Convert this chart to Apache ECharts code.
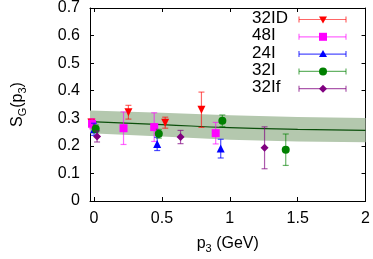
<!DOCTYPE html>
<html><head><meta charset="utf-8">
<script src="https://cdn.jsdelivr.net/npm/echarts@6/dist/echarts.min.js"></script>
<style>html,body{margin:0;padding:0;background:#fff}#c{width:373px;height:259px}</style>
</head><body><div id="c"></div>
<script>
// ---- data ----
const xTicks = [0, 0.5, 1, 1.5, 2];
const xTickLabels = ['0', '0.5', '1', '1.5', '2'];
const yTickLabels = ['0', '0.1', '0.2', '0.3', '0.4', '0.5', '0.6', '0.7'];

const fitP  = [-0.03, 0.5, 1.0, 1.5, 2.0];
const fitVal = [0.288, 0.277, 0.266, 0.260, 0.256];
const fitHi  = [0.328, 0.320, 0.311, 0.305, 0.301];
const fitLo  = [0.246, 0.234, 0.222, 0.216, 0.213];

const seriesNames = ['32ID', '48I', '24I', '32I', '32If'];

const p32ID = [-0.02, 0.253, 0.524, 0.791];
const v32ID = [0.285, 0.322, 0.284, 0.331];
const e32ID = [0.012, 0.025, 0.020, 0.064];

const p48I = [-0.015, 0.217, 0.443, 0.896];
const v48I = [0.280, 0.264, 0.268, 0.246];
const e48I = [0.018, 0.059, 0.052, 0.039];

const p24I = [0.0, 0.465, 0.933];
const v24I = [0.260, 0.207, 0.190];
const e24I = [0.022, 0.024, 0.034];

const p32I = [0.012, 0.477, 0.945, 1.412];
const v32I = [0.262, 0.244, 0.291, 0.186];
const e32I = [0.014, 0.016, 0.021, 0.057];

const p32If = [0.022, 0.637, 1.256];
const v32If = [0.234, 0.232, 0.193];
const e32If = [0.020, 0.024, 0.076];

// ---- styling ----
const FONT = 'Liberation Sans';
const sets = [
  {name: seriesNames[0], p: p32ID, v: v32ID, e: e32ID, color: '#ff0000', bar: 'rgba(255,0,0,0.6)', symbol: 'triangle', rot: 180, size: 8},
  {name: seriesNames[1], p: p48I, v: v48I, e: e48I, color: '#ff00ff', bar: 'rgba(255,0,255,0.6)', symbol: 'rect', rot: 0, size: 8},
  {name: seriesNames[2], p: p24I, v: v24I, e: e24I, color: '#0000ff', bar: 'rgba(0,0,255,0.7)', symbol: 'triangle', rot: 0, size: 8},
  {name: seriesNames[3], p: p32I, v: v32I, e: e32I, color: '#008000', bar: 'rgba(0,128,0,0.6)', symbol: 'circle', rot: 0, size: 8},
  {name: seriesNames[4], p: p32If, v: v32If, e: e32If, color: '#800080', bar: 'rgba(128,0,128,0.65)', symbol: 'diamond', rot: 0, size: 8}
];

const chart = echarts.init(document.getElementById('c'), null, {renderer: 'canvas'});

const series = [];
series.push({
  type: 'custom', silent: true, z: 1, xAxisIndex: 0, yAxisIndex: 0,
  data: [[0, 0]],
  renderItem: function (params, api) {
    const pts = [];
    for (let i = 0; i < fitP.length; i++) pts.push(api.coord([fitP[i], fitHi[i]]));
    for (let i = fitP.length - 1; i >= 0; i--) pts.push(api.coord([fitP[i], fitLo[i]]));
    return {type: 'polygon', shape: {points: pts}, style: {fill: '#b4c8ae'}};
  }
});
series.push({
  type: 'line', z: 2, silent: true, xAxisIndex: 0, yAxisIndex: 0,
  data: fitP.map((x, i) => [x, fitVal[i]]),
  showSymbol: false, smooth: true,
  lineStyle: {color: '#0b4f0b', width: 1.2}
});

sets.forEach((s, k) => {
  series.push({
    type: 'custom', z: 3 + k * 2, silent: true, xAxisIndex: 0, yAxisIndex: 0,
    data: s.p.map((x, i) => [x, s.v[i], s.e[i]]),
    encode: {x: 0, y: 1},
    renderItem: function (params, api) {
      const x = api.value(0), y = api.value(1), e = api.value(2);
      const t = api.coord([x, y + e]), b = api.coord([x, y - e]);
      const c = 3;
      const st = {stroke: s.bar, lineWidth: 1.2};
      return {type: 'group', children: [
        {type: 'line', shape: {x1: t[0], y1: t[1], x2: b[0], y2: b[1]}, style: st},
        {type: 'line', shape: {x1: t[0] - c, y1: t[1], x2: t[0] + c, y2: t[1]}, style: st},
        {type: 'line', shape: {x1: b[0] - c, y1: b[1], x2: b[0] + c, y2: b[1]}, style: st}
      ]};
    }
  });
  series.push({
    type: 'scatter', name: s.name, z: 4 + k * 2, xAxisIndex: 0, yAxisIndex: 0,
    data: s.p.map((x, i) => [x, s.v[i]]),
    symbol: s.symbol, symbolRotate: s.rot, symbolSize: s.size,
    itemStyle: {color: s.color, opacity: 1}
  });
});

// legend (graphic)
const legendGraphics = [];
const ly0 = 19.5, ldy = 17.3;
sets.forEach((s, k) => {
  const y = ly0 + k * ldy;
  legendGraphics.push({type: 'text', left: 252, top: y - 9.5, style: {text: s.name, font: '17px "' + FONT + '"', fill: '#000'}});
  legendGraphics.push({type: 'line', shape: {x1: 299, y1: y, x2: 346, y2: y}, style: {stroke: s.bar, lineWidth: 1.2}});
  legendGraphics.push({type: 'line', shape: {x1: 299, y1: y - 3, x2: 299, y2: y + 3}, style: {stroke: s.bar, lineWidth: 1.2}});
  legendGraphics.push({type: 'line', shape: {x1: 346, y1: y - 3, x2: 346, y2: y + 3}, style: {stroke: s.bar, lineWidth: 1.2}});
  let shape;
  if (s.symbol === 'rect') shape = {type: 'rect', shape: {x: 319, y: y - 4, width: 8, height: 8}, style: {fill: s.color}};
  else if (s.symbol === 'circle') shape = {type: 'circle', shape: {cx: 323, cy: y, r: 4}, style: {fill: s.color}};
  else if (s.symbol === 'diamond') shape = {type: 'polygon', shape: {points: [[323, y - 4], [327, y], [323, y + 4], [319, y]]}, style: {fill: s.color}};
  else if (s.rot === 180) shape = {type: 'polygon', shape: {points: [[319, y - 3], [327, y - 3], [323, y + 4]]}, style: {fill: s.color}};
  else shape = {type: 'polygon', shape: {points: [[319, y + 3], [327, y + 3], [323, y - 4]]}, style: {fill: s.color}};
  legendGraphics.push(shape);
});

const axisLine = {show: true, onZero: false, lineStyle: {color: '#000', width: 1}};
const labelStyle = {color: '#000', fontSize: 16, fontFamily: FONT};

chart.setOption({
  animation: false,
  grid: {left: 80, right: 7, top: 6, bottom: 54},
  xAxis: [{
    type: 'value', min: -0.03, max: 2, position: 'bottom',
    axisLine: axisLine,
    axisTick: {show: true, inside: true, length: 4, customValues: xTicks, lineStyle: {color: '#000'}},
    axisLabel: Object.assign({margin: 10, customValues: xTicks,
      formatter: v => xTickLabels[xTicks.indexOf(v)] ?? ''}, labelStyle),
    splitLine: {show: false},
    name: '{m|p}{s|3}{m| (GeV)}', nameLocation: 'middle', nameGap: 33,
    nameTextStyle: {color: '#000', fontFamily: FONT, rich: {
      m: {fontSize: 16, fontFamily: FONT, color: '#000', lineHeight: 20, verticalAlign: 'middle'},
      s: {fontSize: 11, fontFamily: FONT, color: '#000', lineHeight: 12, padding: [9, 0, 0, 0], verticalAlign: 'middle'}
    }}
  }, {
    type: 'value', min: -0.03, max: 2, position: 'top',
    axisLine: axisLine,
    axisTick: {show: true, inside: true, length: 4, customValues: xTicks, lineStyle: {color: '#000'}},
    axisLabel: {show: false}, splitLine: {show: false}
  }],
  yAxis: [{
    type: 'value', min: 0, max: 0.7, interval: 0.1, position: 'left',
    axisLine: axisLine,
    axisTick: {show: true, inside: true, length: 4, lineStyle: {color: '#000'}},
    axisLabel: Object.assign({margin: 10, formatter: (v, i) => yTickLabels[i]}, labelStyle),
    splitLine: {show: false},
    name: '{m|S}{s|G}{m|(p}{s|3}{m|)}', nameLocation: 'middle', nameGap: 62, nameRotate: 90,
    nameTextStyle: {color: '#000', fontFamily: FONT, rich: {
      m: {fontSize: 16, fontFamily: FONT, color: '#000', lineHeight: 20, verticalAlign: 'middle'},
      s: {fontSize: 11, fontFamily: FONT, color: '#000', lineHeight: 12, padding: [9, 0, 0, 0], verticalAlign: 'middle'}
    }}
  }, {
    type: 'value', min: 0, max: 0.7, interval: 0.1, position: 'right',
    axisLine: axisLine,
    axisTick: {show: true, inside: true, length: 4, lineStyle: {color: '#000'}},
    axisLabel: {show: false}, splitLine: {show: false}
  }],
  graphic: legendGraphics,
  series: series
});
</script>
</body></html>
